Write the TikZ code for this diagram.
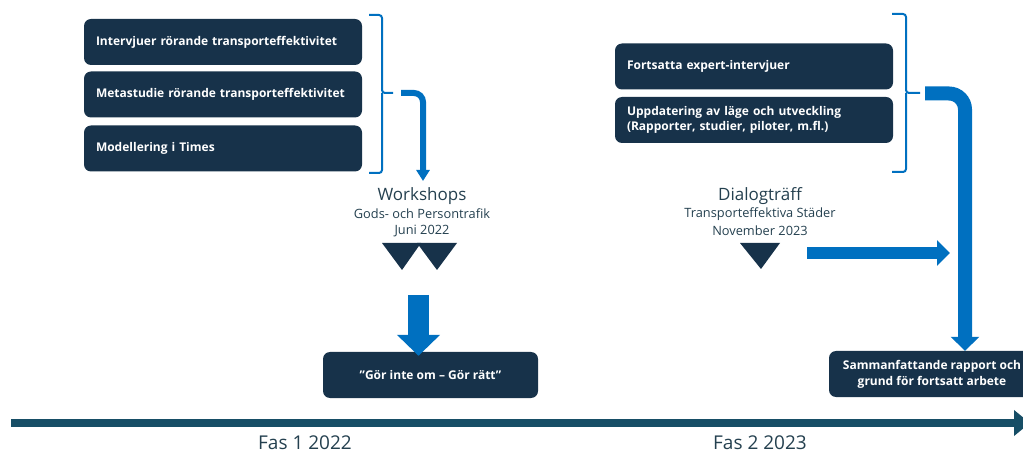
\documentclass[tikz,border=0pt]{standalone}
\usepackage{fontspec}
\setmainfont{Open Sans}
\usetikzlibrary{arrows.meta}

\definecolor{navy}{HTML}{17324A}
\definecolor{flowblue}{HTML}{0070C0}
\definecolor{slate}{HTML}{24404F}
\definecolor{axisteal}{HTML}{174E66}

\tikzset{
  taskbox/.style={fill=navy, rounded corners=7pt, text=white, inner ysep=0pt,
    font=\bfseries\fontsize{12}{14.5}\selectfont, minimum height=46pt},
  leftbox/.style={taskbox, inner xsep=12pt, text width=254pt, align=left},
  midbox/.style={taskbox, align=center},
  eventtitle/.style={text=slate, font=\fontsize{17}{19}\selectfont, inner sep=0pt},
  eventsub/.style={text=slate, font=\fontsize{12.8}{14}\selectfont, inner sep=0pt},
  phase/.style={text=slate, font=\fontsize{19}{21}\selectfont, inner sep=0pt},
  brk/.style={draw=flowblue, line width=2pt, rounded corners=3pt},
  marker/.style={fill=navy},
  thinflow/.style={draw=flowblue, line width=6pt, rounded corners=9pt,
    -{Triangle[width=13pt,length=11pt]}},
  thickflow/.style={draw=flowblue, line width=14pt, rounded corners=16pt,
    -{Triangle[width=28pt,length=14pt]}},
  blockdown/.style={draw=flowblue, line width=21pt,
    -{Triangle[width=42pt,length=21pt]}},
  blockright/.style={draw=flowblue, line width=12pt,
    -{Triangle[width=25pt,length=13pt]}},
  timeline/.style={draw=axisteal, line width=8pt,
    -{Triangle[width=25pt,length=16pt]}}
}

\begin{document}
\begin{tikzpicture}[x=1pt, y=-1pt]
  \useasboundingbox (0,0) rectangle (1023,454);
  \clip (0,0) rectangle (1023,454);

  % Phase 1 work packages
  \node[leftbox] (b1) at (223,42)    {Intervjuer rörande transporteffektivitet};
  \node[leftbox] (b2) at (223,94.5)  {Metastudie rörande transporteffektivitet};
  \node[leftbox] (b3) at (223,148.5) {Modellering i Times};

  % Phase 2 work packages
  \node[leftbox] (b4) at (754,66.5) {Fortsatta expert-intervjuer};
  \node[leftbox] (b5) at (754,120)  {Uppdatering av läge och utveckling\\(Rapporter, studier, piloter, m.fl.)};

  % Outcome boxes
  \node[midbox, minimum width=215pt] (res1) at (430.5,375) {”Gör inte om – Gör rätt”};
  \node[midbox, minimum width=206pt, font=\bfseries\fontsize{12}{16}\selectfont]
    (res2) at (932,374) {Sammanfattande rapport och\\grund för fortsatt arbete};

  % Brackets grouping the work packages
  \draw[brk] (369,15) -| (382,93) -- (393,93);
  \draw[brk] (369,173) -| (382,93);
  \draw[brk] (892,14) -| (906,93) -- (920,93);
  \draw[brk] (892,172) -| (906,93);

  % Events
  \node[eventtitle] (ws)  at (422,196) {Workshops};
  \node[eventsub]   (ws2) at (422,214) {Gods- och Persontrafik};
  \node[eventsub]   (ws3) at (422,231) {Juni 2022};

  \node[eventtitle] (dt)  at (760,196) {Dialogträff};
  \node[eventsub]   (dt2) at (760,214) {Transporteffektiva Städer};
  \node[eventsub]   (dt3) at (760,231) {November 2023};

  % Event markers
  \fill[marker] (382,243) -- (421,243) -- (402,270) -- cycle;
  \fill[marker] (417,243) -- (457,243) -- (437,270) -- cycle;
  \fill[marker] (740,243) -- (780,243) -- (761,269) -- cycle;

  % Flow arrows
  \coordinate (f1) at (401,93);
  \coordinate (f1end) at (423,181);
  \draw[thinflow] (f1) -| (f1end);

  \coordinate (f2) at (925,93.5);
  \draw[thickflow] (f2) -| ([xshift=33pt]res2.north);

  \coordinate (f3) at (418.5,295);
  \draw[blockdown] (f3) -- ([yshift=-4pt]res1.north -| f3);

  \coordinate (f4) at (807,253);
  \coordinate (f4end) at (950,253);
  \draw[blockright] (f4) -- (f4end);

  % Timeline
  \coordinate (t0) at (11,423);
  \coordinate (t1) at (1030,423);
  \draw[timeline] (t0) -- (t1);
  \node[phase] (p1) at (305,443) {Fas 1 2022};
  \node[phase] (p2) at (760,443) {Fas 2 2023};
\end{tikzpicture}
\end{document}
